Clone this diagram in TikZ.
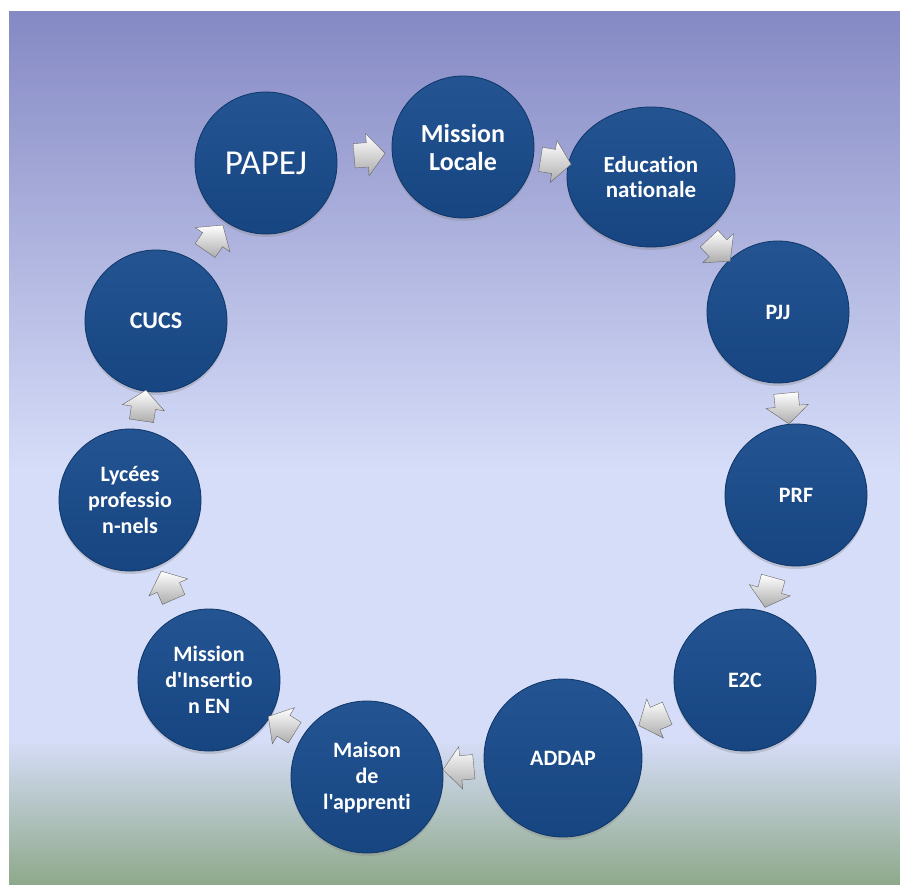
\documentclass[tikz,border=0pt]{standalone}
\usepackage{fontspec}
\setmainfont{Carlito}[Ligatures={TeXOff,NoCommon}]
\usetikzlibrary{shapes.geometric}
\usetikzlibrary{shapes.arrows}
\usetikzlibrary{shadows}

\definecolor{discblue}{HTML}{184B8C}
\definecolor{discedge}{HTML}{0E3668}
\definecolor{bgtop}{HTML}{8589C4}
\definecolor{bgmid}{HTML}{D6DDF8}
\definecolor{bggreen}{HTML}{8EA98B}

\begin{document}
\begin{tikzpicture}[x=1pt,y=-1pt,
	disc/.style={circle, minimum size=142pt, inner sep=0pt, align=center, text=white,
		top color=discblue!95!white, bottom color=discblue!92!black, draw=discedge, line width=0.8pt,
		drop shadow={opacity=0.3, shadow xshift=0pt, shadow yshift=-3pt},
		font=\bfseries\fontsize{22}{26}\selectfont},
	cyc/.style={single arrow, minimum height=31pt, inner xsep=0pt, inner ysep=12pt,
		single arrow head extend=9pt, single arrow tip angle=100,
		top color=white, bottom color=gray!65, draw=gray!80!black, line width=0.4pt,
		sloped, allow upside down}]
	\useasboundingbox (0,0) rectangle (900,884);
	\shade[top color=bgtop, bottom color=bgmid] (9,11) rectangle (900,470);
	\fill[bgmid] (9,469) rectangle (900,741);
	\shade[top color=bgmid, bottom color=bggreen] (9,740) rectangle (900,884);

	\node[disc, font=\fontsize{35}{40}\selectfont] (papej) at (266,163) {PAPEJ};
	\node[disc, font=\bfseries\fontsize{26}{28}\selectfont] (mloc) at (463,147) {Mission\\Locale};
	\node[disc, ellipse, minimum width=168pt, minimum height=140pt, font=\bfseries\fontsize{23}{24.5}\selectfont] (educ) at (651,177) {Education\\nationale};
	\node[disc] (pjj) at (778,312) {PJJ};
	\node[disc] (prf) at (796,495) {PRF};
	\node[disc] (e2c) at (745,680) {E2C};
	\node[disc, minimum size=158pt] (addap) at (563,758) {ADDAP};
	\node[disc, minimum size=152pt] (maison) at (367,777) {Maison\\de\\l'apprenti};
	\node[disc] (minsert) at (209,680) {Mission\\d'Insertio\\n EN};
	\node[disc] (lycees) at (130,500) {Lycées\\professio\\n-nels};
	\node[disc, font=\bfseries\fontsize{24}{26}\selectfont] (cucs) at (156,321) {CUCS};

	\path (papej) -- node[cyc]{} (mloc);
	\path (mloc) -- node[cyc]{} (educ);
	\path (educ) -- node[cyc]{} (pjj);
	\path (pjj) -- node[cyc]{} (prf);
	\path (prf) -- node[cyc]{} (e2c);
	\path (e2c) -- node[cyc]{} (addap);
	\path (addap) -- node[cyc]{} (maison);
	\path (maison) -- node[cyc]{} (minsert);
	\path (minsert) -- node[cyc]{} (lycees);
	\path (lycees) -- node[cyc]{} (cucs);
	\path (cucs) -- node[cyc]{} (papej);
\end{tikzpicture}
\end{document}
